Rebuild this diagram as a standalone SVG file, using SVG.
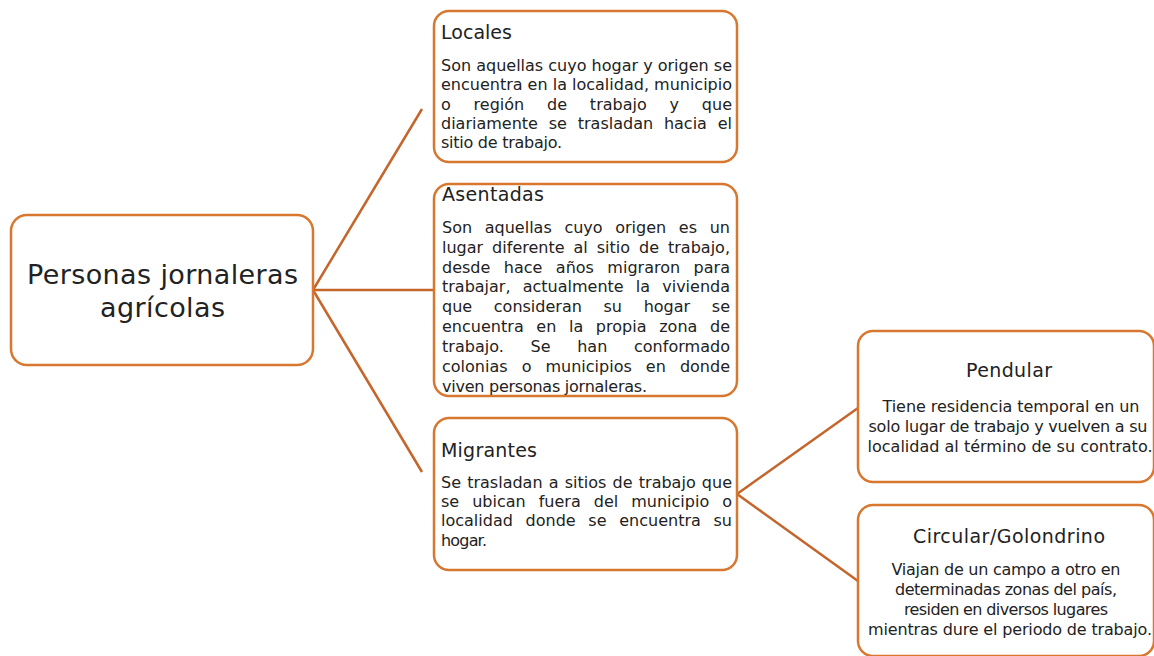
<svg xmlns="http://www.w3.org/2000/svg" width="1154" height="656" viewBox="0 0 1154 656">
<style>
.box{fill:#fff;stroke:#D8772F;stroke-width:2.5}
.con{fill:none;stroke:#C4652B;stroke-width:2.5}
text{font-family:"DejaVu Sans","Liberation Sans",sans-serif;fill:#222}
.t{font-size:19px}
.b{font-size:16px}
.r{font-size:27px}
.m{text-anchor:middle}
</style>
<rect width="1154" height="656" fill="#fff"/>
<g id="connectors">
<line class="con" x1="313" y1="290" x2="422" y2="109"/>
<line class="con" x1="313" y1="290" x2="435" y2="290"/>
<line class="con" x1="313" y1="290" x2="422" y2="472"/>
<line class="con" x1="737" y1="494" x2="858" y2="408"/>
<line class="con" x1="737" y1="494" x2="858" y2="581"/>
</g>
<g id="root">
<rect class="box" x="11" y="215" width="302" height="150" rx="16"/>
<text class="r" x="27" y="284" textLength="271" lengthAdjust="spacing">Personas jornaleras</text>
<text class="r" x="100" y="317" textLength="125" lengthAdjust="spacing">agrícolas</text>
</g>
<g id="locales">
<rect class="box" x="434" y="11" width="303" height="151" rx="15"/>
<text class="t" x="441" y="39" textLength="71" lengthAdjust="spacing">Locales</text>
<text class="b" x="441" y="71" textLength="291" lengthAdjust="spacing">Son aquellas cuyo hogar y origen se</text>
<text class="b" x="441" y="90" textLength="291" lengthAdjust="spacing">encuentra en la localidad, municipio</text>
<text class="b" x="441" y="110" word-spacing="17.7" textLength="291" lengthAdjust="spacing">o región de trabajo y que</text>
<text class="b" x="441" y="129" word-spacing="5.7" textLength="291" lengthAdjust="spacing">diariamente se trasladan hacia el</text>
<text class="b" x="441" y="148" textLength="121" lengthAdjust="spacing">sitio de trabajo.</text>
</g>
<g id="asentadas">
<rect class="box" x="434" y="184" width="303" height="212" rx="15"/>
<text class="t" x="442" y="201" textLength="102" lengthAdjust="spacing">Asentadas</text>
<text class="b" x="442" y="233" word-spacing="7.6" textLength="288" lengthAdjust="spacing">Son aquellas cuyo origen es un</text>
<text class="b" x="442" y="253" word-spacing="3.8" textLength="288" lengthAdjust="spacing">lugar diferente al sitio de trabajo,</text>
<text class="b" x="442" y="273" word-spacing="8.3" textLength="288" lengthAdjust="spacing">desde hace años migraron para</text>
<text class="b" x="442" y="292" word-spacing="7.1" textLength="288" lengthAdjust="spacing">trabajar, actualmente la vivienda</text>
<text class="b" x="442" y="312" word-spacing="16.6" textLength="288" lengthAdjust="spacing">que consideran su hogar se</text>
<text class="b" x="442" y="332" word-spacing="7.5" textLength="288" lengthAdjust="spacing">encuentra en la propia zona de</text>
<text class="b" x="442" y="352" word-spacing="21.5" textLength="288" lengthAdjust="spacing">trabajo. Se han conformado</text>
<text class="b" x="442" y="372" word-spacing="9" textLength="288" lengthAdjust="spacing">colonias o municipios en donde</text>
<text class="b" x="442" y="392" textLength="205" lengthAdjust="spacing">viven personas jornaleras.</text>
</g>
<g id="migrantes">
<rect class="box" x="434" y="418" width="303" height="152" rx="15"/>
<text class="t" x="441" y="457" textLength="96" lengthAdjust="spacing">Migrantes</text>
<text class="b" x="441" y="488" word-spacing="1.1" textLength="291" lengthAdjust="spacing">Se trasladan a sitios de trabajo que</text>
<text class="b" x="441" y="507" word-spacing="7.9" textLength="291" lengthAdjust="spacing">se ubican fuera del municipio o</text>
<text class="b" x="441" y="526" word-spacing="7.6" textLength="291" lengthAdjust="spacing">localidad donde se encuentra su</text>
<text class="b" x="441" y="546" textLength="46" lengthAdjust="spacing">hogar.</text>
</g>
<g id="pendular">
<rect class="box" x="858" y="331" width="296" height="151" rx="15"/>
<text class="t m" x="1009" y="377" textLength="86" lengthAdjust="spacing">Pendular</text>
<text class="b m" x="1011" y="412" textLength="257" lengthAdjust="spacing">Tiene residencia temporal en un</text>
<text class="b m" x="1008" y="432" textLength="279" lengthAdjust="spacing">solo lugar de trabajo y vuelven a su</text>
<text class="b m" x="1010" y="452" textLength="285" lengthAdjust="spacing">localidad al término de su contrato.</text>
</g>
<g id="circular">
<rect class="box" x="858" y="505" width="296" height="151" rx="15"/>
<text class="t m" x="1009" y="543" textLength="192" lengthAdjust="spacing">Circular/Golondrino</text>
<text class="b m" x="1006" y="575" textLength="229" lengthAdjust="spacing">Viajan de un campo a otro en</text>
<text class="b m" x="1006" y="595" textLength="222" lengthAdjust="spacing">determinadas zonas del país,</text>
<text class="b m" x="1006" y="615" textLength="204" lengthAdjust="spacing">residen en diversos lugares</text>
<text class="b m" x="1010" y="635" textLength="284" lengthAdjust="spacing">mientras dure el periodo de trabajo.</text>
</g>
</svg>
